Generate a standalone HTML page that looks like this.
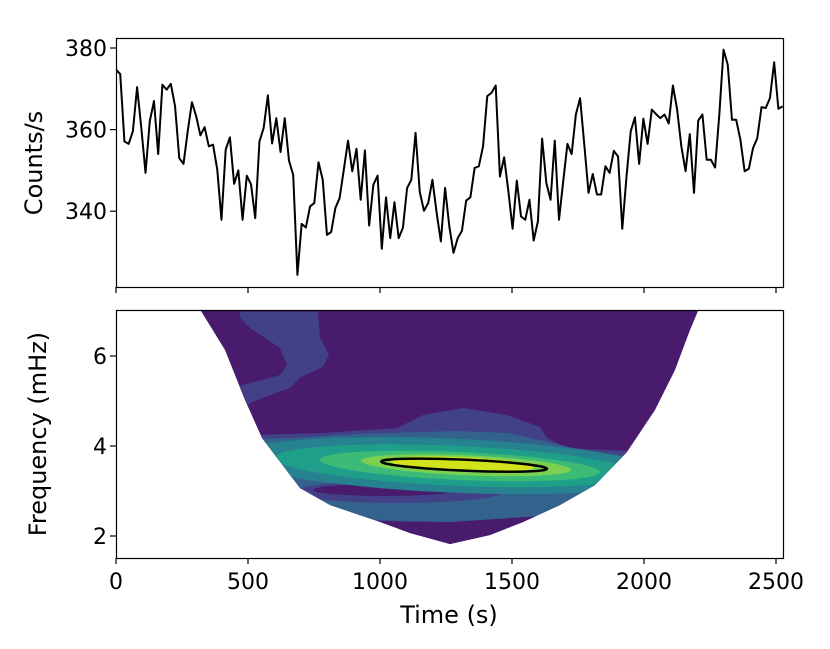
<!DOCTYPE html>
<html><head><meta charset="utf-8"><style>
html,body{margin:0;padding:0;background:#fff}
svg{display:block;font-family:"DejaVu Sans","Liberation Sans",sans-serif}
</style></head><body>
<svg id="fig" width="830" height="649" viewBox="0 0 830 649">
<defs>
<clipPath id="cone"><path d="M201,311 L698,311 L690,330 L675,370 L655,410 L627,452 L595,485 L560,505 L523,522 L490,535 L450,544 L410,533 L383,523 L330,505 L300,488 L262,438 L245,400 L225,350 Z"/></clipPath>
<clipPath id="topclip"><rect x="116" y="38" width="667" height="249"/></clipPath>
</defs>
<g id="topPanel"></g>
<g id="bottomPanel">
 <g clip-path="url(#cone)">
  <rect x="116" y="311" width="667" height="247" fill="#481b6d"/>
  <path d="M240,311.7 L318,311.7 L320,337 L329,355 L323,367 L301,377 L290,388 L257,400 L243,407 L190,412 L190,390 L232,388 L280,375 L287,365 L280,348 L250,328 L240,318 Z" fill="#424086"/>
  <path d="M180,437 L323,433 L397,428 L423,415 L463,408 L507,415 L540,427 L547,438 L567,448 L630,451 L700,452 L700,560 L180,560 Z" fill="#424086"/>
  <path d="M180,440 L290,438 L357,434 L457,431 L507,433 L540,440 L573,448 L625,456 L700,458 L700,520 L550,521 L450,524 L350,518 L180,515 Z" fill="#33638d"/>
  <path d="M300,520 L450,522 L540,516 L700,515 L700,560 L180,560 L180,515 Z" fill="#481b6d"/>
  <ellipse cx="398" cy="492" rx="105" ry="11" fill="#424086"/>
  <ellipse cx="385" cy="490" rx="72" ry="6" fill="#481b6d"/>
  <g transform="rotate(2.5 460 466)">
   <ellipse cx="450" cy="466" rx="215" ry="27" fill="#26828e"/>
   <ellipse cx="455" cy="466" rx="180" ry="20" fill="#1f9e89"/>
   <ellipse cx="460" cy="466" rx="140" ry="14" fill="#3bbb75"/>
   <ellipse cx="466" cy="465" rx="105" ry="10" fill="#7ad151"/>
   <ellipse cx="462" cy="464" rx="72" ry="7" fill="#d2e21b"/>
   <ellipse cx="464" cy="465" rx="83" ry="5.5" fill="none" stroke="#000" stroke-width="2.5"/>
  </g>
 </g>
</g>
</svg>
<script>
const counts = [374.7,373.6,357.1,356.5,359.6,370.4,360.4,349.4,362,367,354,371,369.8,371.2,365.7,353,351.6,359.6,366.7,363.3,358.6,360.6,355.9,356.3,350.2,337.9,355.1,358.1,346.7,350,337.9,348.7,346.6,338.3,357.1,360.4,368.4,356.6,362.8,354.5,362.8,352.4,348.9,324.4,336.9,336,341.2,342,352,347.7,334.2,334.9,340.8,343.2,350.2,357.3,349.8,355.3,342.8,354.9,336.5,346.5,348.7,330.8,343.4,333.4,342.2,333.4,335.9,345.7,347.7,359.2,344.7,340.1,342,347.7,339.6,332.6,345.7,336.3,
329.8,333.4,335.2,342.6,343.4,350.6,351,355.9,368.2,369,370.8,348.5,353.2,344.9,335.7,347.5,338.7,337.9,342.8,332.8,337.5,357.8,346.9,342.8,357.3,337.9,347.3,356.5,354,363.7,367.7,356.3,344.5,349.1,344.1,344.1,351,349.4,354.8,353.4,335.7,348.5,359.6,363,351.6,362.7,356.5,364.9,363.8,362.8,363.7,361.5,370.8,364.9,355.9,349.8,358.9,344.5,362.2,363.7,352.6,352.6,350.7,363.7,379.6,375.9,362.4,362.4,357.5,349.8,350.4,355.5,357.9,365.5,365.3,367.7,376.5,365.1,365.7];
const xTicks = [0,500,1000,1500,2000,2500];
const xTickLabels = ["0","500","1000","1500","2000","2500"];
const yTicksTop = [340,360,380];
const yTicksBottom = [2,4,6];

const NS="http://www.w3.org/2000/svg";
const xS = t => 116 + t*0.264;
const yTop = v => 48 + (380 - v)*4.08;
const yBot = f => 356 + (6 - f)*45;
function mk(tag, attrs, parent){const e=document.createElementNS(NS,tag);for(const k in attrs)e.setAttribute(k,attrs[k]);parent.appendChild(e);return e;}
const gTop=document.getElementById('topPanel'), gBot=document.getElementById('bottomPanel');
const dt = 2525/(counts.length-1);
let d = counts.map((v,i)=>(i?'L':'M')+xS(i*dt).toFixed(2)+','+yTop(v).toFixed(2)).join(' ');
const line = mk('path',{d:d,fill:'none',stroke:'#000','stroke-width':2,'stroke-linejoin':'round','clip-path':'url(#topclip)'},gTop);



function frame(g,y0,y1,name){
  const r=mk('rect',{x:116.5,y:y0+.5,width:667,height:y1-y0,fill:'none',stroke:'#000','stroke-width':1.2},g);
  
  
}
frame(gTop,38,287,'top-axes-frame');
frame(gBot,310,558,'bottom-axes-frame');
xTicks.forEach((t,i)=>{
  const x=xS(t);
  const a=mk('line',{x1:x,x2:x,y1:287,y2:293,stroke:'#000','stroke-width':1.2},gTop);
  
  
  const b=mk('line',{x1:x,x2:x,y1:558,y2:564,stroke:'#000','stroke-width':1.2},gBot);
  
  
  const tx=mk('text',{x:x,y:589,'font-size':22,'text-anchor':'middle'},gBot);
  tx.textContent=xTickLabels[i];
  
  
});
yTicksTop.forEach(v=>{
  const y=yTop(v);
  const a=mk('line',{x1:110,x2:116,y1:y,y2:y,stroke:'#000','stroke-width':1.2},gTop);
  
  
  const tx=mk('text',{x:107,y:y+8,'font-size':22,'text-anchor':'end'},gTop);
  tx.textContent=v;
  
  
});
yTicksBottom.forEach(v=>{
  const y=yBot(v);
  const a=mk('line',{x1:110,x2:116,y1:y,y2:y,stroke:'#000','stroke-width':1.2},gBot);
  
  
  const tx=mk('text',{x:107,y:y+8,'font-size':22,'text-anchor':'end'},gBot);
  tx.textContent=v;
  
  
});
const yl1=mk('text',{x:0,y:0,'font-size':24,'text-anchor':'middle',transform:'translate(42,163) rotate(-90)'},gTop);
yl1.textContent='Counts/s';


const yl2=mk('text',{x:0,y:0,'font-size':24,'text-anchor':'middle',transform:'translate(46,434) rotate(-90)'},gBot);
yl2.textContent='Frequency (mHz)';


const xl=mk('text',{x:449,y:623,'font-size':24,'text-anchor':'middle'},gBot);
xl.textContent='Time (s)';


</script>
</body></html>
